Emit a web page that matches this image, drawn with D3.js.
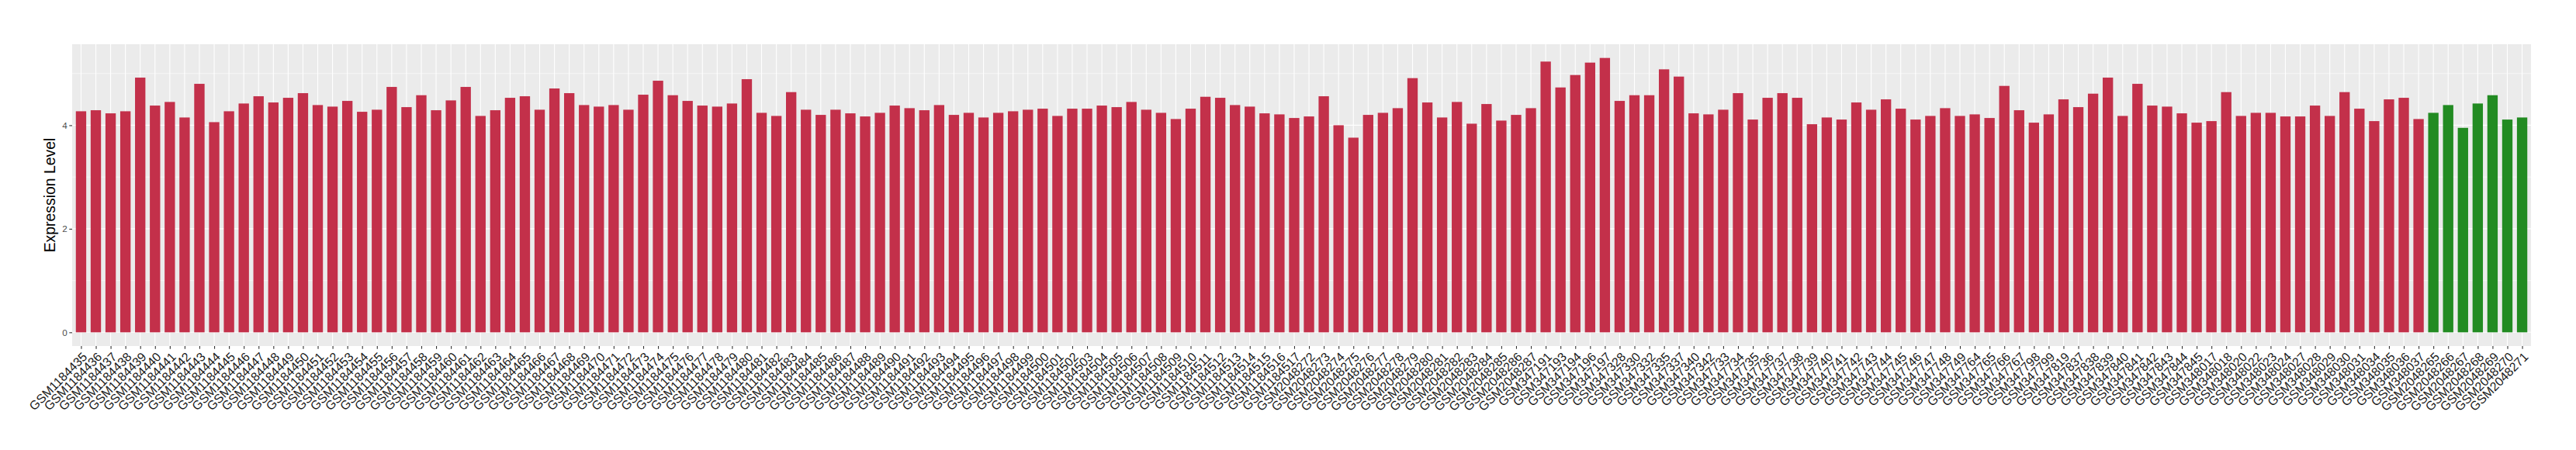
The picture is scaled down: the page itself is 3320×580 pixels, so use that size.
<!DOCTYPE html>
<html>
<head>
<meta charset="utf-8">
<script src="https://cdn.jsdelivr.net/npm/d3@7"></script>
<style>
  body { margin: 0; background: #fff; }
  svg text { font-family: "Liberation Sans", Arial, sans-serif; }
</style>
</head>
<body>
<div id="chart"></div>
<script>
// sample ids, in plotted order
var redSamples = [
  'GSM1184435','GSM1184436','GSM1184437','GSM1184438','GSM1184439','GSM1184440','GSM1184441','GSM1184442','GSM1184443','GSM1184444',
  'GSM1184445','GSM1184446','GSM1184447','GSM1184448','GSM1184449','GSM1184450','GSM1184451','GSM1184452','GSM1184453','GSM1184454',
  'GSM1184455','GSM1184456','GSM1184457','GSM1184458','GSM1184459','GSM1184460','GSM1184461','GSM1184462','GSM1184463','GSM1184464',
  'GSM1184465','GSM1184466','GSM1184467','GSM1184468','GSM1184469','GSM1184470','GSM1184471','GSM1184472','GSM1184473','GSM1184474',
  'GSM1184475','GSM1184476','GSM1184477','GSM1184478','GSM1184479','GSM1184480','GSM1184481','GSM1184482','GSM1184483','GSM1184484',
  'GSM1184485','GSM1184486','GSM1184487','GSM1184488','GSM1184489','GSM1184490','GSM1184491','GSM1184492','GSM1184493','GSM1184494',
  'GSM1184495','GSM1184496','GSM1184497','GSM1184498','GSM1184499','GSM1184500','GSM1184501','GSM1184502','GSM1184503','GSM1184504',
  'GSM1184505','GSM1184506','GSM1184507','GSM1184508','GSM1184509','GSM1184510','GSM1184511','GSM1184512','GSM1184513','GSM1184514',
  'GSM1184515','GSM1184516','GSM1184517',
  'GSM2048272','GSM2048273','GSM2048274','GSM2048275','GSM2048276','GSM2048277','GSM2048278','GSM2048279','GSM2048280','GSM2048281',
  'GSM2048282','GSM2048283','GSM2048284','GSM2048285','GSM2048286','GSM2048287',
  'GSM347191','GSM347193','GSM347194','GSM347196','GSM347197','GSM347328','GSM347330','GSM347332','GSM347335','GSM347337',
  'GSM347340','GSM347342','GSM347733','GSM347734','GSM347735','GSM347736','GSM347737','GSM347738','GSM347739','GSM347740',
  'GSM347741','GSM347742','GSM347743','GSM347744','GSM347745','GSM347746','GSM347747','GSM347748','GSM347749','GSM347764',
  'GSM347765','GSM347766','GSM347767','GSM347798','GSM347799','GSM347819','GSM347837','GSM347838','GSM347839','GSM347840',
  'GSM347841','GSM347842','GSM347843','GSM347844','GSM347845','GSM348017','GSM348018','GSM348020','GSM348022','GSM348023',
  'GSM348024','GSM348027','GSM348028','GSM348029','GSM348030','GSM348031','GSM348034','GSM348035','GSM348036','GSM348037'
]
var redValues = [
  4.27, 4.29, 4.23, 4.27, 4.92, 4.38, 4.45, 4.15, 4.80, 4.06, 4.27, 4.42, 4.56, 4.44, 4.53, 4.62, 4.39, 4.36, 4.47, 4.26,
  4.30, 4.74, 4.35, 4.58, 4.29, 4.48, 4.74, 4.18, 4.29, 4.53, 4.56, 4.30, 4.71,
  4.62, 4.39, 4.36, 4.39, 4.30, 4.59, 4.86, 4.58, 4.47, 4.38, 4.36, 4.42, 4.89, 4.24, 4.18, 4.64, 4.30, 4.20, 4.30, 4.23,
  4.17, 4.24, 4.38, 4.33, 4.29, 4.39, 4.20, 4.24, 4.15, 4.24, 4.27, 4.30, 4.32,
  4.18, 4.32, 4.32, 4.38, 4.35, 4.45, 4.30, 4.24, 4.12, 4.32, 4.55, 4.53, 4.39, 4.36, 4.23, 4.21, 4.14, 4.17, 4.56, 4.00,
  3.76, 4.20, 4.24, 4.33, 4.91, 4.44, 4.15, 4.45, 4.03, 4.41, 4.09, 4.20, 4.33,
  5.23, 4.73, 4.97, 5.21, 5.30, 4.47, 4.58, 4.58, 5.08, 4.94, 4.23, 4.21, 4.30, 4.62, 4.11, 4.53, 4.62, 4.53, 4.02, 4.15,
  4.11, 4.44, 4.30, 4.50, 4.32, 4.11, 4.18, 4.33, 4.18, 4.21, 4.14, 4.76, 4.29,
  4.05, 4.21, 4.50, 4.35, 4.61, 4.92, 4.18, 4.80, 4.38, 4.36, 4.23, 4.05, 4.08, 4.64, 4.18, 4.24, 4.24, 4.17, 4.17, 4.38,
  4.18, 4.64, 4.32, 4.08, 4.50, 4.53, 4.12
]
var greenSamples = ['GSM2048265','GSM2048266','GSM2048267','GSM2048268','GSM2048269','GSM2048270','GSM2048271']
var greenValues = [4.24, 4.39, 3.95, 4.42, 4.58, 4.11, 4.15]

var yTicks = [0, 2, 4]
var yMinorTicks = [1, 3, 5]
var yTitle = 'Expression Level'

var red = '#C3304A'
var green = '#228B22'

var data = redSamples.map(function(s, i){ return {sample: s, value: redValues[i], color: red} })
  .concat(greenSamples.map(function(s, i){ return {sample: s, value: greenValues[i], color: green} }))

var width = 3320, height = 580
var margin = {left: 93, right: 58, top: 57, bottom: 134}
var innerW = width - margin.left - margin.right
var innerH = height - margin.top - margin.bottom

var svg = d3.select('#chart').append('svg')
  .attr('width', width)
  .attr('height', height)

var g = svg.append('g').attr('transform', 'translate(' + margin.left + ',' + margin.top + ')')

////////////
// SCALES //
////////////

var x = d3.scalePoint()
  .domain(data.map(function(d){ return d.sample }))
  .range([0, innerW])
  .padding(0.6)
var step = x.step()
var barW = step * 0.7

var yMax = d3.max(data, function(d){ return d.value })
var y = d3.scaleLinear()
  .domain([-0.05 * yMax, yMax * 1.05])
  .range([innerH, 0])

///////////
// PANEL //
///////////

g.append('rect')
  .attr('width', innerW)
  .attr('height', innerH)
  .attr('fill', '#EBEBEB')

g.selectAll('line.minor')
  .data(yMinorTicks).enter().append('line')
  .attr('class', 'minor')
  .attr('x1', 0).attr('x2', innerW)
  .attr('y1', function(d){ return y(d) }).attr('y2', function(d){ return y(d) })
  .attr('stroke', '#fff').attr('stroke-width', 0.55)

g.selectAll('line.major-y')
  .data(yTicks).enter().append('line')
  .attr('class', 'major-y')
  .attr('x1', 0).attr('x2', innerW)
  .attr('y1', function(d){ return y(d) }).attr('y2', function(d){ return y(d) })
  .attr('stroke', '#fff').attr('stroke-width', 1.1)

g.selectAll('line.major-x')
  .data(data).enter().append('line')
  .attr('class', 'major-x')
  .attr('x1', function(d){ return x(d.sample) }).attr('x2', function(d){ return x(d.sample) })
  .attr('y1', 0).attr('y2', innerH)
  .attr('stroke', '#fff').attr('stroke-width', 1.1)

//////////
// BARS //
//////////

g.selectAll('rect.bar')
  .data(data).enter().append('rect')
  .attr('class', 'bar')
  .attr('x', function(d){ return x(d.sample) - barW / 2 })
  .attr('width', barW)
  .attr('y', function(d){ return y(d.value) })
  .attr('height', function(d){ return y(0) - y(d.value) })
  .attr('fill', function(d){ return d.color })

//////////
// AXES //
//////////

var yAxis = g.append('g')
  .call(d3.axisLeft(y).tickValues(yTicks).tickFormat(d3.format('d')).tickSize(3.7).tickPadding(2.5))
yAxis.select('.domain').remove()
yAxis.selectAll('line').attr('stroke', '#333').attr('stroke-width', 1.1)
yAxis.selectAll('text').attr('fill', '#4D4D4D').style('font-size', '11.7px')

var xAxis = g.append('g')
  .attr('transform', 'translate(0,' + innerH + ')')
  .call(d3.axisBottom(x).tickSize(3.7))
xAxis.select('.domain').remove()
xAxis.selectAll('line').attr('stroke', '#333').attr('stroke-width', 1.1)
xAxis.selectAll('text')
  .attr('fill', '#1a1a1a')
  .style('font-size', '16px')
  .attr('text-anchor', 'end')
  .attr('y', 0).attr('dy', '0.74em')
  .attr('transform', 'translate(0,6.6) rotate(-45)')

svg.append('text')
  .attr('transform', 'translate(71,' + (margin.top + innerH / 2) + ') rotate(-90)')
  .attr('text-anchor', 'middle')
  .style('font-size', '19.4px')
  .attr('fill', '#000')
  .text(yTitle)
</script>
</body>
</html>
